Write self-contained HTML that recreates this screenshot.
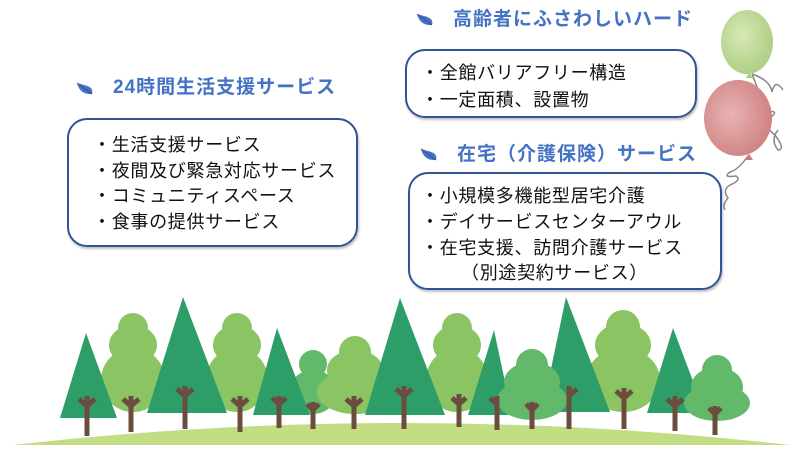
<!DOCTYPE html>
<html><head><meta charset="utf-8"><style>
html,body{margin:0;padding:0;background:#fff;overflow:hidden}
body{width:800px;height:450px;position:relative;font-family:"Liberation Sans","Noto Sans CJK JP",sans-serif}
.t{position:absolute;font-size:19px;color:#4472c4;font-weight:bold;white-space:nowrap;line-height:22px;letter-spacing:1px}
.b{position:absolute;border:2px solid #2f5597;border-radius:20px;box-sizing:border-box;box-shadow:1px 2px 2px rgba(0,0,0,.25)}
.l{position:absolute;font-size:18px;color:#111;white-space:nowrap;line-height:20px;letter-spacing:0.7px}
svg{position:absolute;left:0;top:0}
</style></head><body>
<svg width="800" height="450">
<defs>
<radialGradient id="gb" cx="0.4" cy="0.4" r="0.7"><stop offset="0" stop-color="#d8e8b8"/><stop offset="1" stop-color="#a8cc7c"/></radialGradient>
<radialGradient id="rb" cx="0.4" cy="0.45" r="0.7"><stop offset="0" stop-color="#e8b4b4"/><stop offset="1" stop-color="#cc7a7a"/></radialGradient>
<g id="leaf"><path d="M-7,-6 Q-4,6 8,5 Q10,-2 0,-4 Z" fill="#4472c4"/><path d="M-7,-6 L8,5" stroke="#2f5597" stroke-width="1"/></g>
</defs>
<use href="#leaf" x="84" y="89"/>
<use href="#leaf" x="424" y="20"/>
<use href="#leaf" x="428" y="155"/>
<path d="M752,74 Q770,80 772,92 Q775,78 783,90" stroke="#888" fill="none" stroke-width="1.5"/>
<path d="M752,74 Q760,95 768,112 Q780,110 770,118 Q762,125 775,135 Q786,150 778,150 Q770,140 778,130" stroke="#888" fill="none" stroke-width="1.5"/>
<path d="M748,156 Q738,170 730,172 Q722,178 736,176 Q742,180 730,185 Q722,190 728,198 Q722,205 725,210" stroke="#888" fill="none" stroke-width="1.5"/>
<ellipse cx="747" cy="42" rx="26" ry="32" fill="url(#gb)"/>
<path d="M749,73 l-3,5 l7,0 z" fill="#a8cc7c"/>
<ellipse cx="738" cy="118" rx="34" ry="38" fill="url(#rb)"/>
<path d="M749,154 l-5,6 l9,0 z" fill="#cc7a7a"/>
<!-- ground -->
<path d="M13,445 Q400,401 790,445 Z" fill="#c3dd84"/>
<!-- round trees light -->
<g fill="#8bc462">
<circle cx="133" cy="328" r="15"/><ellipse cx="133" cy="345" rx="24" ry="20"/><ellipse cx="133" cy="380" rx="32" ry="32"/>
<circle cx="237" cy="328" r="15"/><ellipse cx="237" cy="345" rx="24" ry="20"/><ellipse cx="237" cy="380" rx="31" ry="32"/>
<circle cx="457" cy="328" r="15"/><ellipse cx="457" cy="345" rx="24" ry="20"/><ellipse cx="457" cy="380" rx="31" ry="32"/>
<circle cx="623" cy="327" r="17"/><ellipse cx="623" cy="345" rx="28" ry="22"/><ellipse cx="623" cy="380" rx="37" ry="32"/>
</g>
<g fill="#62b96a">
<circle cx="313" cy="364" r="14"/><ellipse cx="313" cy="392" rx="24" ry="22"/>
</g>
<g fill="#8bc462">
<circle cx="355" cy="352" r="16"/><ellipse cx="355" cy="370" rx="28" ry="20"/><ellipse cx="355" cy="392" rx="38" ry="22"/>
</g>
<!-- pines -->
<g fill="#2e9e68">
<polygon points="86,333 60,418 117,418"/>
<polygon points="183,297 147,413 227,413"/>
<polygon points="277,328 253,415 310,415"/>
<polygon points="400,298 365,415 445,415"/>
<polygon points="494,330 468,415 512,415"/>
<polygon points="566,297 542,412 610,412"/>
<polygon points="673,328 647,413 705,413"/>
</g>
<g fill="#62b96a">
<circle cx="532" cy="365" r="16"/><ellipse cx="532" cy="382" rx="28" ry="20"/><ellipse cx="532" cy="400" rx="35" ry="20"/>
<circle cx="717" cy="370" r="15"/><ellipse cx="717" cy="387" rx="26" ry="20"/><ellipse cx="717" cy="403" rx="33" ry="18"/>
</g>
<!-- trunks -->
<g stroke="#6b4c3f" stroke-width="5" fill="none">
<path d="M87,396 V436 M87,406 l-8,-7 M87,406 l8,-7"/>
<path d="M131,396 V432 M131,406 l-8,-7 M131,406 l8,-7"/>
<path d="M185,386 V429 M185,396 l-8,-7 M185,396 l8,-7"/>
<path d="M240,396 V432 M240,406 l-8,-7 M240,406 l8,-7"/>
<path d="M279,396 V428 M279,404 l-7,-6 M279,404 l7,-6"/>
<path d="M313,402 V429 M313,410 l-6,-6 M313,410 l6,-6"/>
<path d="M354,396 V429 M354,406 l-8,-7 M354,406 l8,-7"/>
<path d="M404,386 V429 M404,396 l-8,-7 M404,396 l8,-7"/>
<path d="M459,394 V427 M459,404 l-7,-6 M459,404 l7,-6"/>
<path d="M497,396 V430 M497,404 l-7,-6"/>
<path d="M532,402 V429 M532,410 l-6,-6 M532,410 l6,-6"/>
<path d="M569,386 V429 M569,396 l8,-7"/>
<path d="M624,388 V429 M624,398 l-8,-7 M624,398 l8,-7"/>
<path d="M675,396 V431 M675,406 l-8,-7 M675,406 l8,-7"/>
<path d="M715,406 V435 M715,414 l-6,-6 M715,414 l6,-6"/>
</g>
</svg>

<div class="t" style="left:113px;top:77px">24時間生活支援サービス</div>
<div class="b" style="left:67px;top:118px;width:291px;height:129px"></div>
<div class="l" style="left:93px;top:135px">・生活支援サービス</div>
<div class="l" style="left:93px;top:161px">・夜間及び緊急対応サービス</div>
<div class="l" style="left:93px;top:186px">・コミュニティスペース</div>
<div class="l" style="left:93px;top:212px">・食事の提供サービス</div>

<div class="t" style="left:453px;top:9px">高齢者にふさわしいハード</div>
<div class="b" style="left:405px;top:49px;width:292px;height:69px"></div>
<div class="l" style="left:421px;top:63px">・全館バリアフリー構造</div>
<div class="l" style="left:421px;top:90px">・一定面積、設置物</div>

<div class="t" style="left:457px;top:144px">在宅（介護保険）サービス</div>
<div class="b" style="left:408px;top:172px;width:314px;height:118px"></div>
<div class="l" style="left:421px;top:186px">・小規模多機能型居宅介護</div>
<div class="l" style="left:421px;top:212px">・デイサービスセンターアウル</div>
<div class="l" style="left:421px;top:238px">・在宅支援、訪問介護サービス</div>
<div class="l" style="left:461px;top:263px">（別途契約サービス）</div>
</body></html>
